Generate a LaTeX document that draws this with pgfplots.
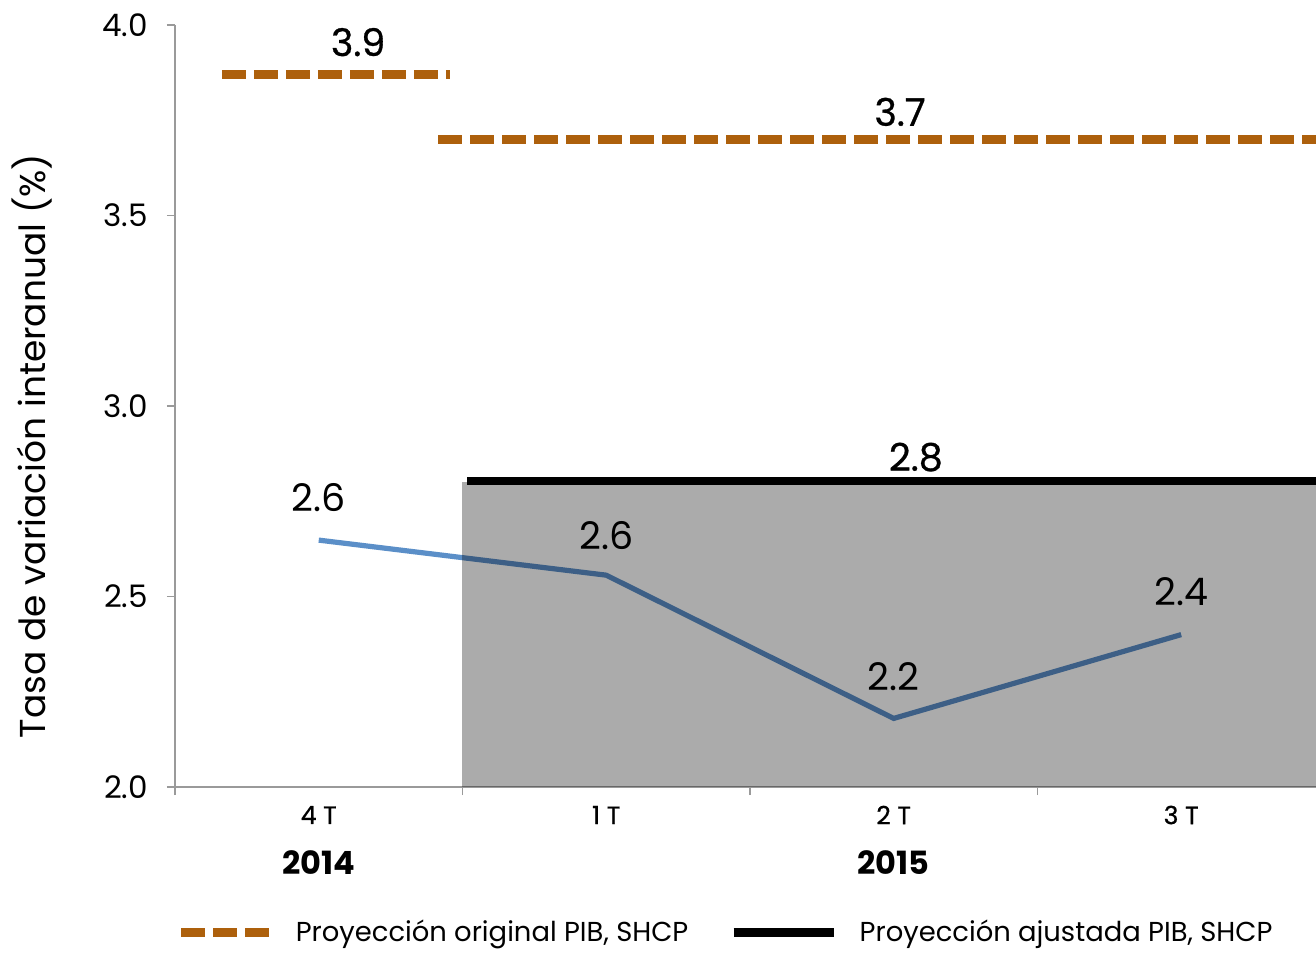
\documentclass[border=0pt]{standalone}
\usepackage{fontspec}
\setmainfont{Poppins}
\newfontfamily\medfont{Poppins}[FakeBold=0.8]
\usepackage{pgfplots}
\pgfplotsset{compat=1.18}
\pgfplotsset{blackimg/.style={legend image code/.code={\draw[##1] (0pt,0pt) -- (50pt,0pt);}}}
\definecolor{orangeproj}{HTML}{AD600C}
\definecolor{blueline}{HTML}{5B8FC8}
\definecolor{axgray}{HTML}{9A9A9A}
\begin{document}
\begin{tikzpicture}
\useasboundingbox (-87.5pt,-83.5pt) rectangle (570.5pt,393.5pt);
\begin{axis}[
  at={(0pt,0pt)}, anchor=south west,
  scale only axis, width=570.5pt, height=381pt,
  clip mode=individual,
  xmin=-0.5, xmax=3.469, ymin=2, ymax=4,
  axis x line*=bottom, axis y line*=left,
  axis line style={-, axgray, line width=0.8pt},
  ytick={2,2.5,3,3.5,4},
  yticklabel style={/pgf/number format/fixed, /pgf/number format/fixed zerofill, /pgf/number format/precision=1, xshift=-6pt},
  /pgf/number format/assume math mode=true,
  ticklabel style={font=\fontsize{15.5}{15.5}\selectfont},
  tick align=outside, major tick length=4pt,
  xtick={-0.5,0.5,1.5,2.5}, xticklabels={},
  tick style={axgray, line width=0.8pt},
  legend style={draw=none, fill=none, at={(-0.004,-0.191)}, anchor=west,
    font=\fontsize{13.7}{14}\selectfont, legend columns=2,
    nodes={inner xsep=11pt},
    /tikz/every even column/.append style={column sep=9.5pt}},
  legend image code/.code={\draw[#1] (0pt,0pt) -- (44pt,0pt);},
]
\addplot[blueline, line width=2.6pt, forget plot] coordinates {(0,2.648) (1,2.556) (2,2.18) (3,2.40)};
\addplot[draw=none, fill=black, fill opacity=0.33, forget plot] coordinates {(0.5,2.8) (3.6,2.8)} \closedcycle;
\addplot[orangeproj, line width=4.5pt, dash pattern=on 12pt off 4pt] coordinates {(-0.337,3.869) (0.457,3.869)};
\addlegendentry{Proyección original PIB, SHCP}
\addplot[black, line width=4.2pt, blackimg] coordinates {(0.516,2.803) (3.6,2.803)};
\addlegendentry{Proyección ajustada PIB, SHCP}
\addplot[orangeproj, line width=4.5pt, dash pattern=on 12pt off 4pt, forget plot] coordinates {(0.415,3.70) (3.6,3.70)};
\node[font=\medfont\fontsize{19}{19}\selectfont] at (axis cs:0.137,3.955) {3.9};
\node[font=\medfont\fontsize{19}{19}\selectfont] at (axis cs:2.022,3.772) {3.7};
\node[font=\medfont\fontsize{19}{19}\selectfont] at (axis cs:2.077,2.866) {2.8};
\node[font=\fontsize{19}{19}\selectfont] at (axis cs:0,2.759) {2.6};
\node[font=\fontsize{19}{19}\selectfont] at (axis cs:1,2.661) {2.6};
\node[font=\fontsize{19}{19}\selectfont] at (axis cs:2,2.289) {2.2};
\node[font=\fontsize{19}{19}\selectfont] at (axis cs:3,2.512) {2.4};
\node[font=\medfont\fontsize{12.5}{13}\selectfont] at ([yshift=-14pt]axis cs:0,2) {4 T};
\node[font=\medfont\fontsize{12.5}{13}\selectfont] at ([yshift=-14pt]axis cs:1,2) {1 T};
\node[font=\medfont\fontsize{12.5}{13}\selectfont] at ([yshift=-14pt]axis cs:2,2) {2 T};
\node[font=\medfont\fontsize{12.5}{13}\selectfont] at ([yshift=-14pt]axis cs:3,2) {3 T};
\node[font=\bfseries\fontsize{16}{16}\selectfont] at ([yshift=-38pt]axis cs:0,2) {2014};
\node[font=\bfseries\fontsize{16}{16}\selectfont] at ([yshift=-38pt]axis cs:2,2) {2015};
\end{axis}
\node[rotate=90, font=\fontsize{18}{18}\selectfont] at (-71.5pt,170.5pt) {Tasa de variación interanual (\%)};
\end{tikzpicture}
\end{document}
